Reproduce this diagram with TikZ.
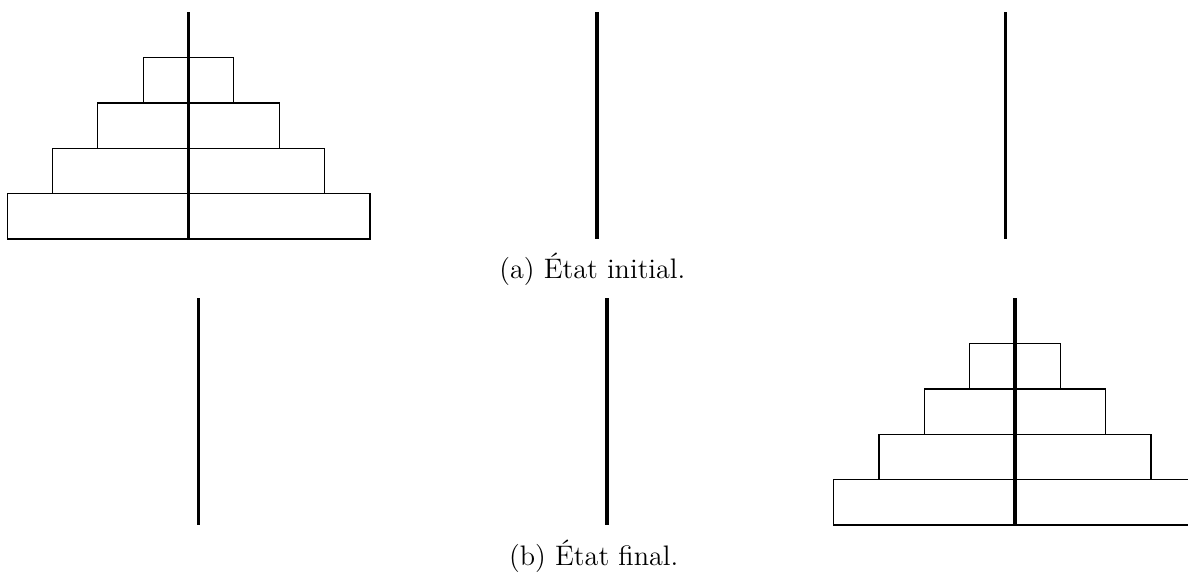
\documentclass[tikz,border=0pt]{standalone}
\begin{document}
\begin{tikzpicture}[x=0.5pt,y=-0.5pt,
  peg/.style={line width=1.8pt},
  disk/.style={line width=0.6pt},
  caption/.style={anchor=base,inner sep=0pt,font=\fontsize{14.1}{17}\selectfont}]
\useasboundingbox (0,0) rectangle (1188,576);
\clip (0,0) rectangle (1188,576);
\def\u{45.35}
% top state
\foreach \w/\t in {1/57.7,2/103.05,3/148.4,4/193.75}{
  \draw[disk] ({188.5-\w*\u},\t) rectangle ({188.5+\w*\u},{\t+\u});
}
\foreach \x [count=\i] in {188.5,597,1005.5}{
  \coordinate (ta\i) at (\x,12.5);
  \coordinate (tb\i) at (\x,239);
  \draw[peg] (ta\i) -- (tb\i);
}
\node[caption] (capa) at (592.3,278.5) {(a) État initial.};
% bottom state
\foreach \w/\t in {1/343.7,2/389.05,3/434.4,4/479.75}{
  \draw[disk] ({1015-\w*\u},\t) rectangle ({1015+\w*\u},{\t+\u});
}
\foreach \x [count=\i] in {198.5,607,1015}{
  \coordinate (ba\i) at (\x,298.3);
  \coordinate (bb\i) at (\x,525);
  \draw[peg] (ba\i) -- (bb\i);
}
\node[caption] (capb) at (593.7,566) {(b) État final.};
\end{tikzpicture}
\end{document}
